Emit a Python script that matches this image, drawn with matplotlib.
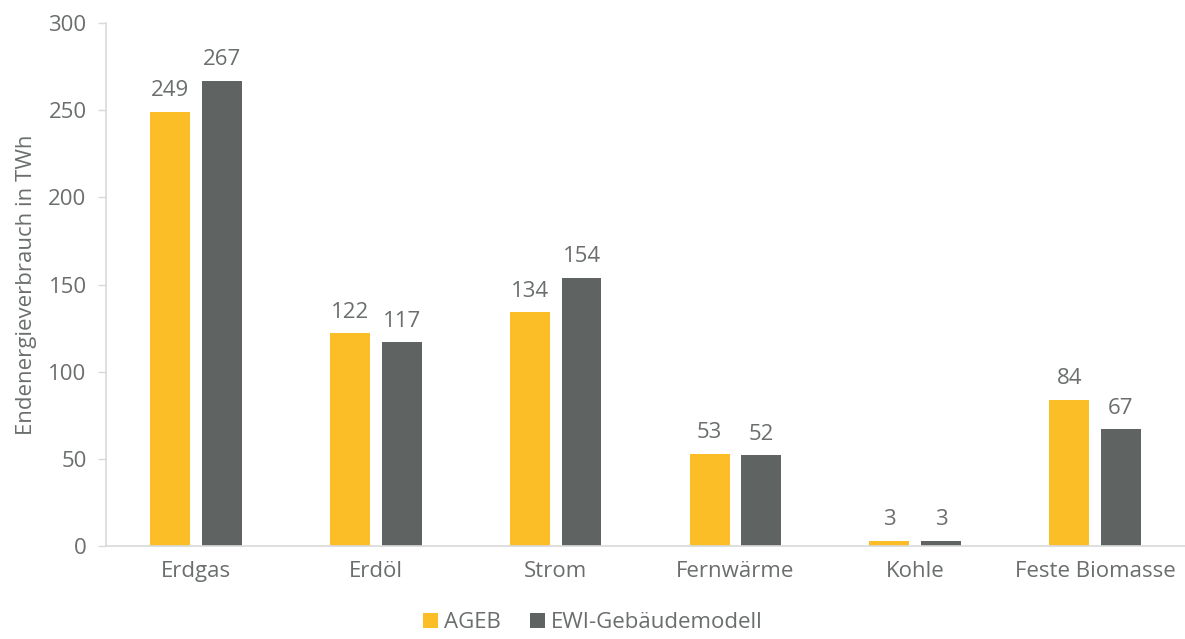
import matplotlib
matplotlib.use("Agg")
import matplotlib.pyplot as plt
import numpy as np

categories = ["Erdgas", "Erdöl", "Strom", "Fernwärme", "Kohle", "Feste Biomasse"]
ageb = [249, 122, 134, 53, 3, 84]
ewi = [267, 117, 154, 52, 3, 67]
series_names = ["AGEB", "EWI-Gebäudemodell"]
yticks = [0, 50, 100, 150, 200, 250, 300]

YEL = "#FBBE26"
GRY = "#5F6463"
TXT = "#6A6E6D"
LINE = "#D9D9D9"

plt.rcParams['font.family'] = ['Open Sans', 'DejaVu Sans']
FS = 16

fig = plt.figure(figsize=(11.85, 6.39), dpi=100)
ax = fig.add_axes([0.0895, 0.1455, 0.9105, 0.8185])

x = np.arange(len(categories))
w = 0.222
off = 0.144
b1 = ax.bar(x - off, ageb, w, color=YEL, label=series_names[0])
b2 = ax.bar(x + off, ewi, w, color=GRY, label=series_names[1])

for bars, vals in ((b1, ageb), (b2, ewi)):
    for r, v in zip(bars, vals):
        ax.text(r.get_x() + r.get_width() / 2, v + 6, str(v), ha="center", va="bottom",
                fontsize=FS, color=TXT)

ax.set_xlim(-0.5, len(categories) - 0.5)
ax.set_ylim(0, 300)
ax.set_yticks(yticks)
ax.set_yticklabels([str(t) for t in yticks])
ax.set_xticks(x)
ax.set_xticklabels(categories)
ax.tick_params(axis="y", colors=LINE, labelcolor=TXT, labelsize=FS, length=6, width=1, pad=8)
ax.tick_params(axis="x", length=0, labelcolor=TXT, labelsize=FS, pad=11)
for s in ("top", "right"):
    ax.spines[s].set_visible(False)
ax.spines["left"].set_color(LINE)
ax.spines["bottom"].set_color(LINE)
ax.spines["left"].set_linewidth(1.2)
ax.spines["bottom"].set_linewidth(1.2)
ax.set_ylabel("Endenergieverbrauch in TWh", fontsize=FS, color=TXT, labelpad=8)

leg = fig.legend(handles=[b1, b2], labels=series_names, loc="lower center",
                 bbox_to_anchor=(0.5, -0.022), ncol=2, frameon=False, fontsize=FS,
                 handlelength=0.7, handleheight=0.7, handletextpad=0.25, columnspacing=1.3)
for t in leg.get_texts():
    t.set_color(TXT)

fig.savefig("out.png", dpi=100)
